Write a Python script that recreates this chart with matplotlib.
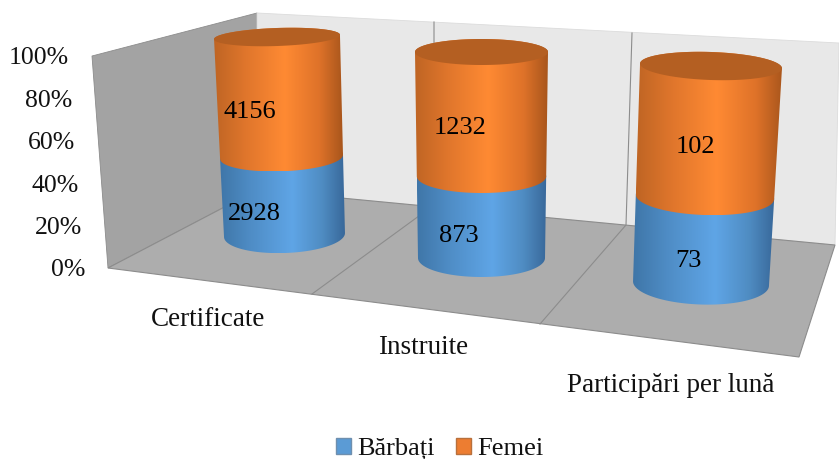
#!/usr/bin/env python3
# -*- coding: utf-8 -*-
import numpy as np
import matplotlib
matplotlib.use("Agg")
import matplotlib.pyplot as plt
from matplotlib.colors import LinearSegmentedColormap
from matplotlib.patches import Patch, Polygon

plt.rcParams['font.family'] = ['Liberation Serif', 'DejaVu Serif']

categories = ['Certificate', 'Instruite', 'Participări per lună']
barbati = [2928, 873, 73]
femei = [4156, 1232, 102]
percent_ticks = [0, 20, 40, 60, 80, 100]

# colturile cutiei in pixeli
front_bottom_left, front_top_left = (108, 268), (92, 56)
back_bottom_left, back_top_left = (257, 190), (257, 13)
front_bottom_right, back_bottom_right, back_top_right = (799, 357), (835, 245), (839, 43)
# separatoarele dintre categorii: fata podea, spate podea, sus pe perete
grid_front = [(312, 294), (540, 324)]
grid_back = [(434, 205), (626, 225)]
grid_top = [(434, 22), (632, 33)]

# cadrul fiecarui cilindru in pixeli: centru, semi-latime, semi-inaltime la 0% si la 100%
base_center = [(284.5, 235), (481.5, 258), (701, 283.5)]
top_center = [(277, 37), (481.5, 52), (711, 66)]
base_size = [(60.5, 18), (63.5, 19), (68, 21)]
top_size = [(63, 9), (66.5, 13), (71, 14)]
tilt_deg = [-2, 0, 2]


def hull(points):
    pts = sorted(map(tuple, points))

    def half(seq):
        out = []
        for p in seq:
            while len(out) > 1 and ((out[-1][0] - out[-2][0]) * (p[1] - out[-2][1])
                                    - (out[-1][1] - out[-2][1]) * (p[0] - out[-2][0])) <= 0:
                out.pop()
            out.append(p)
        return out[:-1]
    return np.array(half(pts) + half(pts[::-1]))


fig = plt.figure(figsize=(8.39, 4.59), dpi=100)
ax = fig.add_axes([0, 0, 1, 1])
ax.set_xlim(0, 839)
ax.set_ylim(459, 0)
ax.axis('off')

edge = '#8c8c8c'
# pereti si podea
ax.add_patch(Polygon([front_bottom_left, back_bottom_left, back_top_left, front_top_left],
                     fc='#a3a3a3', ec=edge, lw=0.6))
ax.add_patch(Polygon([back_bottom_left, back_bottom_right, back_top_right, back_top_left],
                     fc='#e8e8e8', ec='#dcdcdc', lw=0.6))
ax.add_patch(Polygon([front_bottom_left, front_bottom_right, back_bottom_right, back_bottom_left],
                     fc='#adadad', ec=edge, lw=0.8))
for f, m, t in zip(grid_front, grid_back, grid_top):
    ax.plot(*zip(f, m, t), color=edge, lw=0.8)

blue_cmap = LinearSegmentedColormap.from_list(
    'b', [(0, '#3f76a8'), (0.25, '#4f8dc6'), (0.58, '#5fa5e6'), (0.82, '#4f8cc2'), (1, '#38689a')])
orange_cmap = LinearSegmentedColormap.from_list(
    'o', [(0, '#bf6524'), (0.25, '#e0762c'), (0.55, '#ff8a33'), (0.82, '#de7229'), (1, '#a9561c')])

angles = np.linspace(0, 2 * np.pi, 181)


def ellipse(i, share):
    # perspectiva usoara pe verticala
    t = share / (share + (1 - share) * 1.08)
    c = np.array(base_center[i]) + t * (np.array(top_center[i]) - np.array(base_center[i]))
    hw, hh = np.array(base_size[i]) + t * (np.array(top_size[i]) - np.array(base_size[i]))
    a = np.radians(tilt_deg[i])
    ex, ey = hw * np.cos(angles), hh * np.sin(angles)
    return np.column_stack([c[0] + ex * np.cos(a) - ey * np.sin(a), c[1] + ex * np.sin(a) + ey * np.cos(a)])


def side(i, z0, z1, cmap):
    poly = hull(np.vstack([ellipse(i, z0), ellipse(i, z1)]))
    left, right = poly[:, 0].min(), poly[:, 0].max()
    grad = np.linspace(0, 1, 256).reshape(1, -1)
    im = ax.imshow(grad, cmap=cmap, extent=(left, right, poly[:, 1].max(), poly[:, 1].min()),
                   aspect='auto', zorder=3)
    clip = Polygon(poly, transform=ax.transData, fc='none', ec='none')
    ax.add_patch(clip)
    im.set_clip_path(clip)


for i in range(len(categories)):
    share = barbati[i] / (barbati[i] + femei[i])
    side(i, 0, share, blue_cmap)
    side(i, share, 1, orange_cmap)
    ax.add_patch(Polygon(ellipse(i, 1), fc='#b45f22', ec='none', zorder=4))

ax.set_xlim(0, 839)
ax.set_ylim(459, 0)

# etichete
for p in percent_ticks:
    x = front_bottom_left[0] + (front_top_left[0] - front_bottom_left[0]) * p / 100
    y = front_bottom_left[1] + (front_top_left[1] - front_bottom_left[1]) * p / 100
    ax.text(x - 23, y + 2.5, f'{p}%', ha='right', va='center', fontsize=18.5, color='#111111')

value_xy = [((250, 112), (254, 214)), ((460, 128), (459, 236)), ((695, 147), (688, 261))]
for i in range(len(categories)):
    ax.text(*value_xy[i][0], str(femei[i]), ha='center', va='center', fontsize=19, color='black', zorder=5)
    ax.text(*value_xy[i][1], str(barbati[i]), ha='center', va='center', fontsize=19, color='black', zorder=5)

cat_xy = [(208, 320), (423, 347), (671, 386)]
for name, (x, y) in zip(categories, cat_xy):
    ax.text(x, y, name, ha='center', va='center', fontsize=19.5, color='#111111')

handles = [Patch(fc='#5b9bd5', ec='#6f8fae', label='Bărbați'), Patch(fc='#ed7d31', ec='#b8703c', label='Femei')]
ax.legend(handles=handles, ncol=2, loc='center', bbox_to_anchor=(440 / 839, 1 - 449 / 459), frameon=False,
          fontsize=19, handlelength=0.55, handleheight=0.55, handletextpad=0.25, columnspacing=0.8,
          borderpad=0, labelcolor='#111111')

fig.savefig('out.png', dpi=100)
